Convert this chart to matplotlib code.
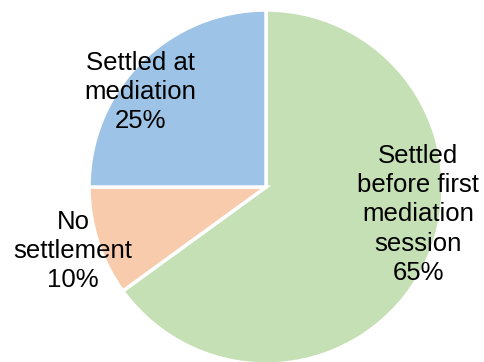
import matplotlib
matplotlib.use("Agg")
import matplotlib.pyplot as plt

categories = ["Settled\nbefore first\nmediation\nsession", "No\nsettlement", "Settled at\nmediation"]
shares = [65, 10, 25]
colors = ["#C5E0B4", "#F8CBAD", "#9DC3E6"]

# label centres in data units (pie radius = 1)
label_pos = [(0.86, -0.155), (-1.09, -0.36), (-0.71, 0.535)]

W, H = 485, 362
cx, cy, r = 266, 187, 177

fig = plt.figure(figsize=(W / 100, H / 100), dpi=100)
ax = fig.add_axes([0, 0, 1, 1])
ax.pie(shares, colors=colors, startangle=90, counterclock=False, radius=1,
       wedgeprops=dict(edgecolor="white", linewidth=2.5))
ax.set_xlim(-cx / r, (W - cx) / r)
ax.set_ylim(-(H - cy) / r, cy / r)
ax.set_aspect("equal")
ax.axis("off")

for name, val, (x, y) in zip(categories, shares, label_pos):
    ax.text(x, y, f"{name}\n{val}%", ha="center", va="center",
            fontsize=18.5, family="Liberation Sans", linespacing=1.27, color="black")

fig.savefig("out.png", dpi=100)
